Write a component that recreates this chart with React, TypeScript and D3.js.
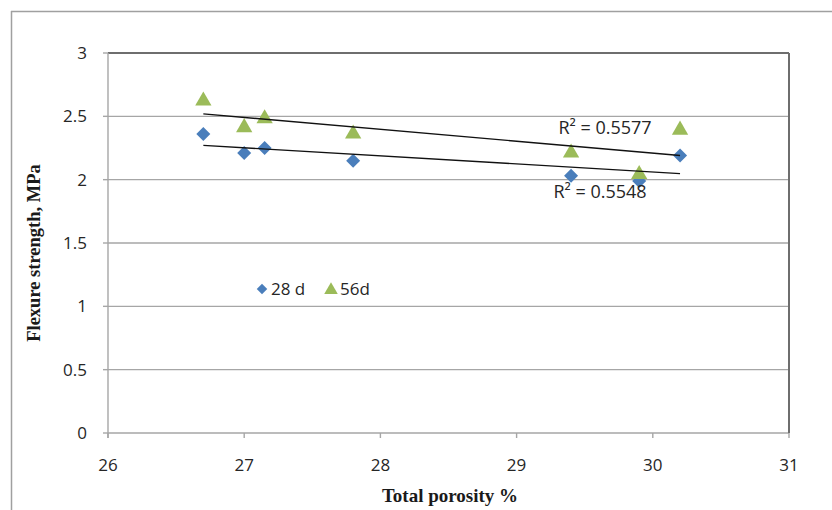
import React from "react";
import * as d3 from "d3";

const porosity28 = [26.7, 27.0, 27.15, 27.8, 29.4, 29.9, 30.2];
const strength28 = [2.36, 2.21, 2.25, 2.15, 2.03, 1.99, 2.19];
const porosity56 = [26.7, 27.0, 27.15, 27.8, 29.4, 29.9, 30.2];
const strength56 = [2.63, 2.42, 2.49, 2.37, 2.22, 2.05, 2.4];
const xTicks = [26, 27, 28, 29, 30, 31];
const yTicks = [0, 0.5, 1, 1.5, 2, 2.5, 3];
const r2Labels = ["R² = 0.5548", "R² = 0.5577"];
const seriesNames = ["28 d", "56d"];

function fit(xs: number[], ys: number[]) {
  const mx = d3.mean(xs)!;
  const my = d3.mean(ys)!;
  let sxy = 0, sxx = 0;
  xs.forEach((x, i) => {
    sxy += (x - mx) * (ys[i] - my);
    sxx += (x - mx) * (x - mx);
  });
  const b = sxy / sxx;
  const a = my - b * mx;
  return (x: number) => a + b * x;
}

export default function App() {
  const W = 832, H = 510;
  const left = 108, right = 789, top = 53, bottom = 433;
  const x = d3.scaleLinear().domain([26, 31]).range([left, right]);
  const y = d3.scaleLinear().domain([0, 3]).range([bottom, top]);
  const f28 = fit(porosity28, strength28);
  const f56 = fit(porosity56, strength56);
  const x0 = d3.min(porosity28)!, x1 = d3.max(porosity28)!;
  const diamond = d3.symbol().type(d3.symbolDiamond2).size(125)()!;
  const tri = d3.symbol().type(d3.symbolTriangle).size(115)()!;
  const diamondSmall = d3.symbol().type(d3.symbolDiamond2).size(70)()!;
  const triSmall = d3.symbol().type(d3.symbolTriangle).size(80)()!;
  const blue = "#4a7ebb";
  const green = "#9bbb59";
  const tickFont = "Open Sans, Noto Sans, sans-serif";
  const txt = "#262626";
  return (
    <svg width={W} height={H} style={{ position: "absolute", left: 0, top: 0, background: "#fff" }}>
      <rect x={0} y={0} width={W} height={H} fill="#fff" />
      {/* outer frame */}
      <line x1={11} y1={11.5} x2={W} y2={11.5} stroke="#a0a0a0" strokeWidth={1.5} />
      <line x1={11.5} y1={11} x2={11.5} y2={H} stroke="#a0a0a0" strokeWidth={1.5} />
      {/* gridlines */}
      {yTicks.map((t) => (
        <line key={t} x1={left} x2={right} y1={y(t)} y2={y(t)} stroke={t === 3 ? "#6e6e6e" : "#a6a6a6"} strokeWidth={t === 3 ? 2 : 1.4} />
      ))}
      {/* plot border right */}
      <line x1={right} x2={right} y1={top} y2={bottom} stroke="#6e6e6e" strokeWidth={2} />
      {/* y axis */}
      <line x1={left} x2={left} y1={top} y2={bottom + 5} stroke="#a6a6a6" strokeWidth={1.4} />
      {yTicks.map((t) => (
        <line key={"yt" + t} x1={left - 5} x2={left} y1={y(t)} y2={y(t)} stroke="#a6a6a6" strokeWidth={1.4} />
      ))}
      {xTicks.map((t) => (
        <line key={"xt" + t} x1={x(t)} x2={x(t)} y1={bottom} y2={bottom + 5} stroke="#a6a6a6" strokeWidth={1.4} />
      ))}
      {yTicks.map((t) => (
        <text key={"yl" + t} x={87} y={y(t)} dy="0.35em" textAnchor="end" fontSize={17} fontFamily={tickFont} fill={txt}>
          {t}
        </text>
      ))}
      {xTicks.map((t) => (
        <text key={"xl" + t} x={x(t)} y={465} dy="0.35em" textAnchor="middle" fontSize={17} fontFamily={tickFont} fill={txt}>
          {t}
        </text>
      ))}
      {/* axis titles */}
      <text x={450} y={495} dy="0.35em" textAnchor="middle" fontSize={19} fontWeight="bold" fontFamily="Liberation Serif, serif" fill="#1a1a1a">
        Total porosity %
      </text>
      <text transform={`translate(34,${(bottom + top) / 2 + 10}) rotate(-90)`} dy="0.35em" textAnchor="middle" fontSize={18.5} fontWeight="bold" fontFamily="Liberation Serif, serif" fill="#1a1a1a">
        Flexure strength, MPa
      </text>
      {/* points */}
      {porosity28.map((p, i) => (
        <path key={"d" + i} d={diamond} transform={`translate(${x(p)},${y(strength28[i])})`} fill={blue} />
      ))}
      {porosity56.map((p, i) => (
        <path key={"t" + i} d={tri} transform={`translate(${x(p)},${y(strength56[i]) + 1})`} fill={green} />
      ))}
      {/* trendlines */}
      <line x1={x(x0)} y1={y(f28(x0))} x2={x(x1)} y2={y(f28(x1))} stroke="#111" strokeWidth={1.4} />
      <line x1={x(x0)} y1={y(f56(x0))} x2={x(x1)} y2={y(f56(x1))} stroke="#111" strokeWidth={1.4} />
      {/* R2 labels */}
      <text x={600} y={192} dy="0.35em" textAnchor="middle" fontSize={18} fontFamily={tickFont} fill={txt}>{r2Labels[0]}</text>
      <text x={605} y={128} dy="0.35em" textAnchor="middle" fontSize={18} fontFamily={tickFont} fill={txt}>{r2Labels[1]}</text>
      {/* legend */}
      <path d={diamondSmall} transform={`translate(262,289)`} fill={blue} />
      <text x={271} y={289} dy="0.35em" fontSize={17} fontFamily={tickFont} fill={txt}>{seriesNames[0]}</text>
      <path d={triSmall} transform={`translate(331,290)`} fill={green} />
      <text x={340} y={289} dy="0.35em" fontSize={17} fontFamily={tickFont} fill={txt}>{seriesNames[1]}</text>
    </svg>
  );
}
